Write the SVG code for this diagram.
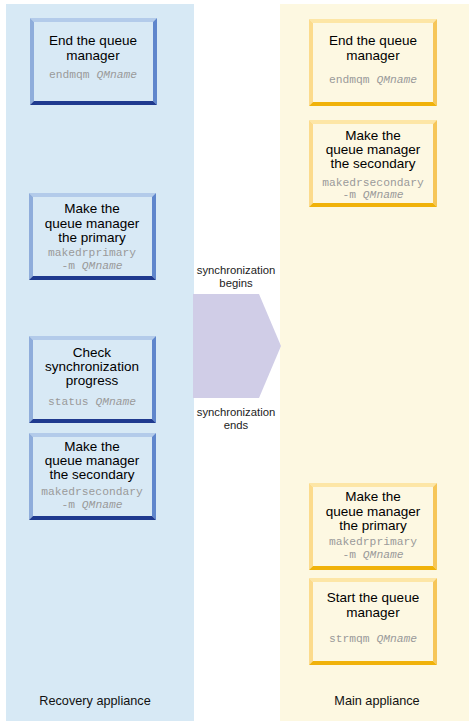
<svg xmlns="http://www.w3.org/2000/svg" width="476" height="727" viewBox="0 0 476 727">
<style>
.t{font-family:"Liberation Sans",Arial,sans-serif;font-size:13.5px;fill:#000;text-anchor:middle}
.m{font-family:"Liberation Mono","Courier New",monospace;font-size:11.3px;fill:#9a9a9a;text-anchor:middle}
.i{font-style:italic}
.lbl{font-family:"Liberation Sans",Arial,sans-serif;font-size:11.3px;fill:#222;text-anchor:middle}
.pl{font-family:"Liberation Sans",Arial,sans-serif;font-size:12.7px;fill:#111;text-anchor:middle}
</style>
<defs>
<g id="bb">
<rect x="0" y="0" width="127" height="87" fill="#d8e9f5"/>
<polygon points="0,0 127,0 123,4 4,4" fill="#b3cbea"/>
<polygon points="0,0 4,4 4,83 0,87" fill="#8faddb"/>
<polygon points="127,0 127,87 123,83 123,4" fill="#5f86cc"/>
<polygon points="0,87 127,87 123,83 4,83" fill="#1f3a8f"/>
</g>
<g id="yb">
<rect x="0" y="0" width="128" height="87" fill="#fdf8e2"/>
<polygon points="0,0 128,0 124,4 4,4" fill="#fde6a6"/>
<polygon points="0,0 4,4 4,83 0,87" fill="#fcdb8c"/>
<polygon points="128,0 128,87 124,83 124,4" fill="#f6c659"/>
<polygon points="0,87 128,87 124,83 4,83" fill="#f0b20a"/>
</g>
</defs>
<rect width="476" height="727" fill="#fff"/>
<g id="recovery-panel">
<rect x="6" y="4" width="188" height="717" fill="#d7e9f5"/>
<text class="pl" x="95" y="705">Recovery appliance</text>
</g>
<g id="main-panel">
<rect x="280" y="4" width="189" height="717" fill="#fdf8e1"/>
<text class="pl" x="377" y="705">Main appliance</text>
</g>
<g id="connectors">
<polygon id="sync-arrow" points="193,294 259,294 281,346 259,398 193,398" fill="#d0cde7"/>
<text class="lbl" x="236" y="274">synchronization</text>
<text class="lbl" x="236" y="287">begins</text>
<text class="lbl" x="236" y="416">synchronization</text>
<text class="lbl" x="236" y="429">ends</text>
</g>
<g id="r-end">
<use href="#bb" x="30" y="18"/>
<text class="t" x="93" y="45">End the queue</text>
<text class="t" x="93" y="59.5">manager</text>
<text class="m" x="93" y="78">endmqm <tspan class="i">QMname</tspan></text>
</g>
<g id="r-primary">
<use href="#bb" x="29" y="193"/>
<text class="t" x="92" y="213">Make the</text>
<text class="t" x="92" y="227.5">queue manager</text>
<text class="t" x="92" y="242">the primary</text>
<text class="m" x="92" y="256">makedrprimary</text>
<text class="m" x="92" y="269">-m <tspan class="i">QMname</tspan></text>
</g>
<g id="r-check">
<use href="#bb" x="29" y="336"/>
<text class="t" x="92" y="357">Check</text>
<text class="t" x="92" y="371">synchronization</text>
<text class="t" x="92" y="385">progress</text>
<text class="m" x="92" y="405">status <tspan class="i">QMname</tspan></text>
</g>
<g id="r-secondary">
<use href="#bb" x="29" y="433"/>
<text class="t" x="92" y="451">Make the</text>
<text class="t" x="92" y="465">queue manager</text>
<text class="t" x="92" y="479">the secondary</text>
<text class="m" x="92" y="495">makedrsecondary</text>
<text class="m" x="92" y="508">-m <tspan class="i">QMname</tspan></text>
</g>
<g id="m-end">
<use href="#yb" x="309" y="19"/>
<text class="t" x="373" y="45">End the queue</text>
<text class="t" x="373" y="59.5">manager</text>
<text class="m" x="373" y="83">endmqm <tspan class="i">QMname</tspan></text>
</g>
<g id="m-secondary">
<use href="#yb" x="309" y="120"/>
<text class="t" x="373" y="140">Make the</text>
<text class="t" x="373" y="154">queue manager</text>
<text class="t" x="373" y="168">the secondary</text>
<text class="m" x="373" y="186">makedrsecondary</text>
<text class="m" x="373" y="198">-m <tspan class="i">QMname</tspan></text>
</g>
<g id="m-primary">
<use href="#yb" x="309" y="483"/>
<text class="t" x="373" y="501">Make the</text>
<text class="t" x="373" y="515.5">queue manager</text>
<text class="t" x="373" y="530">the primary</text>
<text class="m" x="373" y="545">makedrprimary</text>
<text class="m" x="373" y="558">-m <tspan class="i">QMname</tspan></text>
</g>
<g id="m-start">
<use href="#yb" x="309" y="578"/>
<text class="t" x="373" y="602">Start the queue</text>
<text class="t" x="373" y="617">manager</text>
<text class="m" x="373" y="642">strmqm <tspan class="i">QMname</tspan></text>
</g>
</svg>
